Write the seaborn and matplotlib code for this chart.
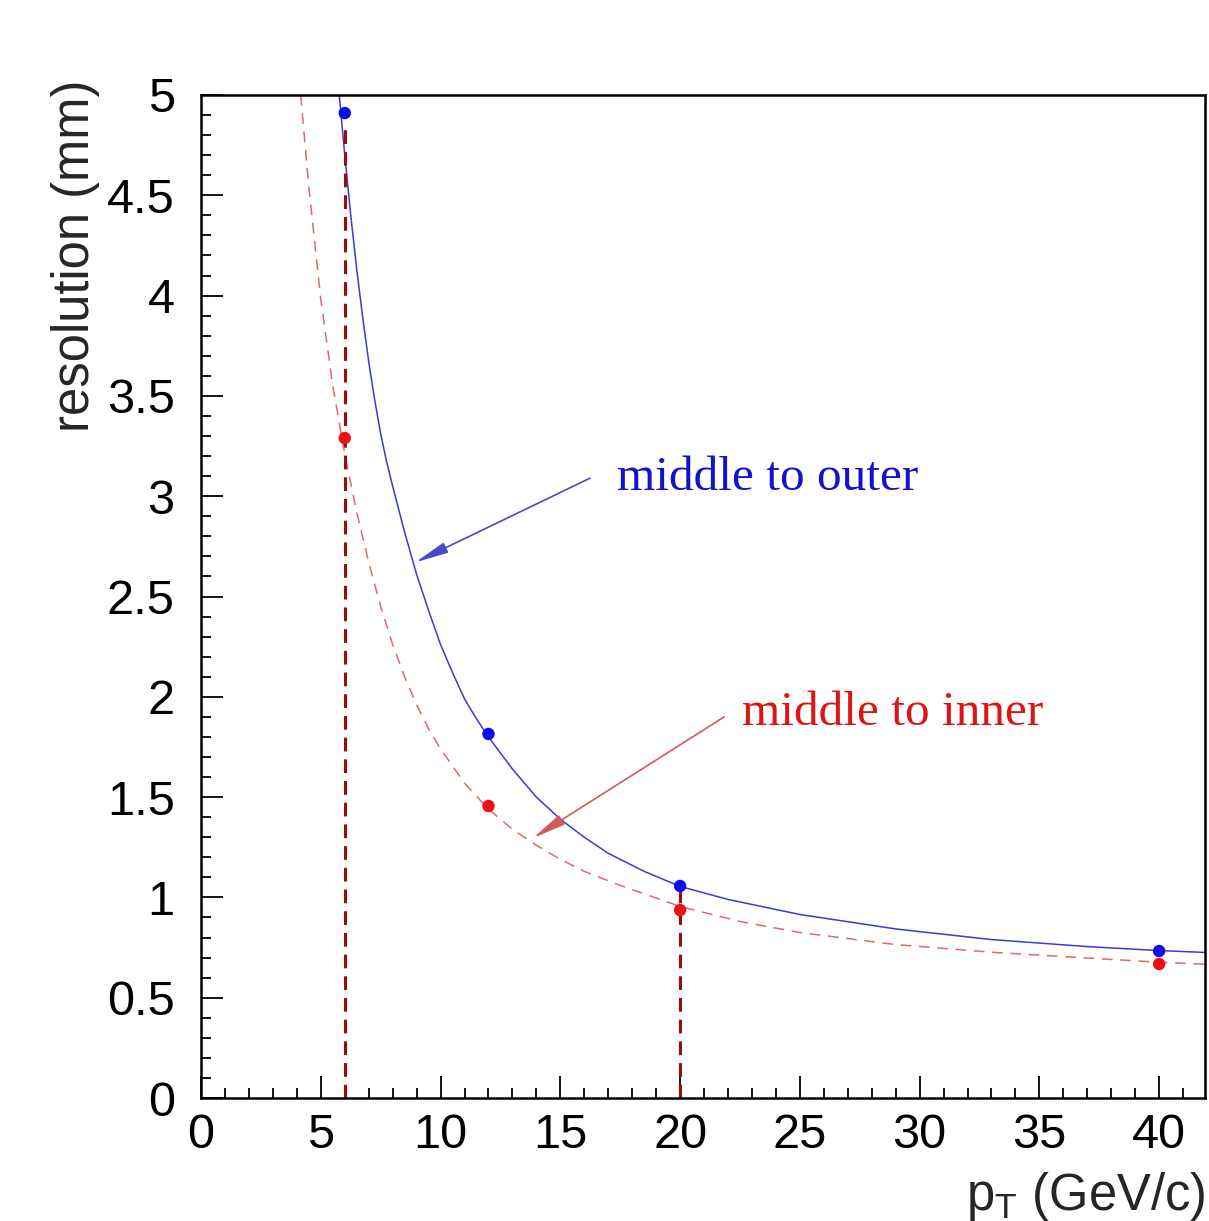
import matplotlib
matplotlib.use("Agg")
import matplotlib.pyplot as plt
from matplotlib.ticker import MultipleLocator, FuncFormatter
import seaborn as sns
import pandas as pd

# measured points (pT in GeV/c, resolution in mm)
pt_points = [6, 12, 20, 40]
res_outer = [4.91, 1.815, 1.057, 0.733]
res_inner = [3.29, 1.456, 0.937, 0.668]

# fit curves
outer_x = [5.77, 6.0, 6.25, 6.5, 6.75, 7.0, 7.25, 7.5, 7.75, 8.0, 8.5, 9.0, 9.5,
           10.0, 10.5, 11.0, 11.5, 12.0, 13.0, 14.0, 15.0, 16.0, 17.0, 18.5,
           20.0, 22.0, 25.0, 29.0, 33.0, 37.0, 40.0, 41.9]
outer_y = [5.0, 4.70, 4.40, 4.13, 3.89, 3.67, 3.48, 3.31, 3.17, 3.05, 2.82, 2.61, 2.43,
           2.26, 2.12, 1.99, 1.89, 1.80, 1.64, 1.50, 1.39, 1.30, 1.22, 1.13,
           1.055, 0.99, 0.915, 0.843, 0.79, 0.755, 0.735, 0.726]
inner_x = [4.16, 4.5, 5.0, 5.5, 6.0, 6.5, 7.0, 7.5, 8.0, 8.5, 9.0, 9.5, 10.0, 11.0,
           12.0, 13.0, 14.0, 15.0, 16.0, 17.5, 20.0, 22.5, 25.0, 29.0, 33.0, 37.0,
           40.0, 41.9]
inner_y = [5.0, 4.54, 3.98, 3.55, 3.21, 2.92, 2.67, 2.45, 2.26, 2.10, 1.96, 1.84, 1.74, 1.57,
           1.44, 1.34, 1.26, 1.19, 1.13, 1.06, 0.955, 0.88, 0.825, 0.765, 0.727, 0.698,
           0.677, 0.667]

# pT thresholds marked with vertical lines
cut_x = [6, 20]
cut_top = [4.85, 1.04]

sns.set_style("white")
plt.rcParams["font.family"] = ["Liberation Sans", "DejaVu Sans"]

fig = plt.figure(figsize=(12.09, 12.21), dpi=100)
ax = fig.add_axes([0.1663, 0.1007, 0.8305, 0.8215])

outer = pd.DataFrame({"pt": outer_x, "res": outer_y})
inner = pd.DataFrame({"pt": inner_x, "res": inner_y})
pts = pd.DataFrame({"pt": pt_points + pt_points,
                    "res": res_outer + res_inner,
                    "layer": ["outer"] * 4 + ["inner"] * 4})

sns.lineplot(data=inner, x="pt", y="res", ax=ax, color="#e06a6a", lw=1.1,
             linestyle=(0, (7, 5)), errorbar=None)
sns.lineplot(data=outer, x="pt", y="res", ax=ax, color="#3b3bd0", lw=1.1,
             errorbar=None)
ax.vlines(cut_x, 0, cut_top, colors="#9e0a0a", lw=2.2, linestyles=(0, (4.5, 2.6)))
sns.scatterplot(data=pts, x="pt", y="res", hue="layer",
                palette={"outer": "#0c0cec", "inner": "#ee1111"},
                s=80, edgecolor="none", legend=False, ax=ax, zorder=5)

# annotations
arrow_style = "-|>,head_length=1.7,head_width=0.28"
ax.text(17.37, 3.03, "middle to outer", color="#1212cc", fontsize=35.5,
        family="Liberation Serif", va="baseline")
ax.annotate("", xy=(8.94, 2.67), xytext=(16.24, 3.09),
            arrowprops=dict(arrowstyle=arrow_style, color="#4a4ac8", lw=1.2,
                            mutation_scale=12, shrinkA=0, shrinkB=0))
ax.text(22.59, 1.86, "middle to inner", color="#dd1414", fontsize=35.5,
        family="Liberation Serif", va="baseline")
ax.annotate("", xy=(13.86, 1.296), xytext=(21.84, 1.90),
            arrowprops=dict(arrowstyle=arrow_style, color="#d25a5a", lw=1.2,
                            mutation_scale=12, shrinkA=0, shrinkB=0))

ax.set_xlim(0, 41.92)
ax.set_ylim(0, 5)
ax.xaxis.set_major_locator(MultipleLocator(5))
ax.xaxis.set_minor_locator(MultipleLocator(1))
ax.yaxis.set_major_locator(MultipleLocator(0.5))
ax.yaxis.set_minor_locator(MultipleLocator(0.1))
ax.yaxis.set_major_formatter(FuncFormatter(lambda v, p: f"{v:g}"))
ax.tick_params(which="both", direction="in", top=False, right=False,
               bottom=True, left=True, width=1.3, colors="black")
ax.tick_params(which="major", length=16)
ax.tick_params(which="minor", length=7)
ax.tick_params(axis="x", which="major", labelsize=35, pad=11)
ax.tick_params(axis="y", which="major", labelsize=35, pad=19)
for sp in ax.spines.values():
    sp.set_linewidth(1.8)
    sp.set_color("black")

ax.set_xlabel("")
ax.set_ylabel("")
ax.text(-0.1255, 1.015, "resolution (mm)", transform=ax.transAxes, rotation=90,
        ha="center", va="top", fontsize=36.5)
fig.text(1206 / 1209, 1 - 1210 / 1221, r"p$_\mathregular{T}$ (GeV/c)",
         ha="right", va="baseline", fontsize=36.5)

fig.savefig("out.png", dpi=100)
